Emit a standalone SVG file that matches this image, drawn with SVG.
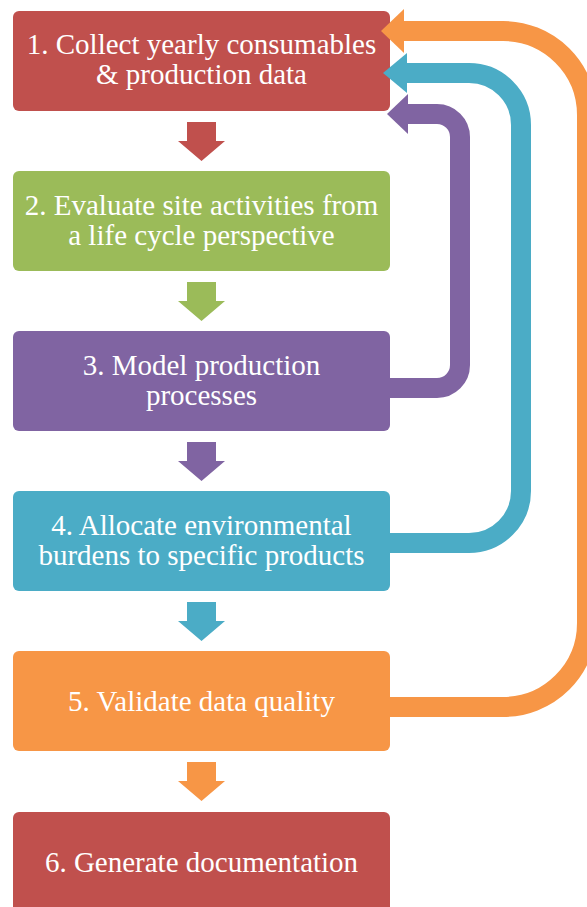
<svg xmlns="http://www.w3.org/2000/svg" width="587" height="907" viewBox="0 0 587 907">
  <style>
    .box { stroke: none; }
    .lbl { font-family: "Liberation Serif", "Times New Roman", serif; font-size: 29px; fill: #FFFFFF; text-anchor: middle; }
    .loop { fill: none; stroke-width: 20; }
    .red { fill: #C0504D; }
    .green { fill: #9BBB59; }
    .purple { fill: #8064A2; }
    .blue { fill: #4BACC6; }
    .orange { fill: #F79646; }
  </style>
  <defs>
    <path id="down" d="M-14.5,0 H14.5 V19 H23.5 L0,39 L-23.5,19 H-14.5 Z"/>
  </defs>
  <rect width="587" height="907" fill="#FFFFFF"/>

  <g id="node1">
    <rect class="box red" x="13" y="11" width="377" height="100" rx="6"/>
    <text class="lbl" x="201.5" y="54">1. Collect yearly consumables</text>
    <text class="lbl" x="201.5" y="84">&amp; production data</text>
  </g>
  <g id="node2">
    <rect class="box green" x="13" y="171" width="377" height="100" rx="6"/>
    <text class="lbl" x="201.5" y="215">2. Evaluate site activities from</text>
    <text class="lbl" x="201.5" y="245">a life cycle perspective</text>
  </g>
  <g id="node3">
    <rect class="box purple" x="13" y="331" width="377" height="100" rx="6"/>
    <text class="lbl" x="201.5" y="375">3. Model production</text>
    <text class="lbl" x="201.5" y="405">processes</text>
  </g>
  <g id="node4">
    <rect class="box blue" x="13" y="491" width="377" height="100" rx="6"/>
    <text class="lbl" x="201.5" y="535">4. Allocate environmental</text>
    <text class="lbl" x="201.5" y="565">burdens to specific products</text>
  </g>
  <g id="node5">
    <rect class="box orange" x="13" y="651" width="377" height="100" rx="6"/>
    <text class="lbl" x="201.5" y="711">5. Validate data quality</text>
  </g>
  <g id="node6">
    <rect class="box red" x="13" y="812" width="377" height="100" rx="6"/>
    <text class="lbl" x="201.5" y="872">6. Generate documentation</text>
  </g>

  <g id="connectors">
    <use href="#down" class="red" x="201.5" y="122"/>
    <use href="#down" class="green" x="201.5" y="282"/>
    <use href="#down" class="purple" x="201.5" y="442"/>
    <use href="#down" class="blue" x="201.5" y="602"/>
    <use href="#down" class="orange" x="201.5" y="762"/>

    <path class="loop" stroke="#8064A2" d="M388,388 H437 A23,23 0 0 0 460,365 V137 A23,23 0 0 0 437,114 H406"/>
    <polygon class="purple" points="408,94 387,114 408,134"/>

    <path class="loop" stroke="#4BACC6" d="M388,543 H469 A52,52 0 0 0 521,491 V125 A52,52 0 0 0 469,73 H405"/>
    <polygon class="blue" points="407,53 383,73 407,93"/>

    <path class="loop" stroke="#F79646" d="M388,707 H503 A84,84 0 0 0 587,623 V115 A84,84 0 0 0 503,31 H402"/>
    <polygon class="orange" points="404,9 381,31 404,53"/>
  </g>
</svg>
